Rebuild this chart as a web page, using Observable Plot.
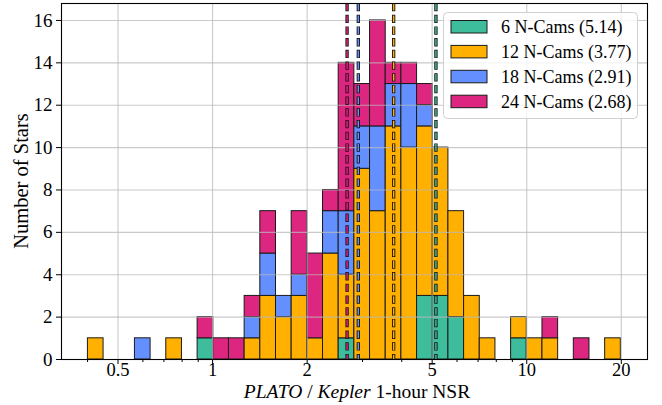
<!DOCTYPE html>
<html><head><meta charset="utf-8">
<script src="https://cdn.jsdelivr.net/npm/d3@7"></script>
<script src="https://cdn.jsdelivr.net/npm/@observablehq/plot@0.6"></script>
<style>
html,body{margin:0;padding:0;background:#fff;}
#chart svg{display:block;}
</style>
</head><body><div id="chart"></div>
<script>
// ---- data ----
const series = ["6 N-Cams", "12 N-Cams", "18 N-Cams", "24 N-Cams"];
const medians = [5.14, 3.77, 2.91, 2.68];
const colors = ["#3dbd9b", "#ffb000", "#648fff", "#dc267f"];
const binLo = 0.401, binHi = 19.93, nBins = 34;
// counts per log-spaced bin (34 bins), stacked bottom to top in series order
const counts6  = [0,0,0,0,0,0,0,1,0,0, 0,0,0,0,0,0,1,0,0,0, 0,3,3,2,0,0,0,1,0,0, 0,0,0,0];
const counts12 = [1,0,0,0,0,1,0,0,0,0, 1,3,2,3,1,5,3,9,7,11, 10,8,7,5,3,1,0,1,1,1, 0,0,0,1];
const counts18 = [0,0,0,1,0,0,0,0,0,0, 1,2,1,1,0,2,3,2,4,2, 3,1,0,0,0,0,0,0,0,0, 0,0,0,0];
const counts24 = [0,0,0,0,0,0,0,1,1,1, 1,2,0,3,4,1,7,2,5,1, 1,1,0,0,0,0,0,0,0,1, 0,1,0,0];
const xMajorTicks = [0.5, 1, 2, 5, 10, 20];
const xTickLabels = ["0.5", "1", "2", "5", "10", "20"];
const xMinorTicks = [0.4, 0.6, 0.7, 0.8, 0.9, 3, 4, 6, 7, 8, 9];
const yTicks = [0, 2, 4, 6, 8, 10, 12, 14, 16];

// ---- build table ----
const allCounts = [counts6, counts12, counts18, counts24];
const edges = d3.range(nBins + 1).map(i => binLo * Math.pow(binHi / binLo, i / nBins));
const rows = [];
for (let i = 0; i < nBins; i++) {
  series.forEach((s, k) => {
    if (allCounts[k][i] > 0) rows.push({x1: edges[i], x2: edges[i + 1], y: allCounts[k][i], series: s});
  });
}
const medRows = series.map((s, k) => ({series: s, x: medians[k]}));
const xLabelRows = xMajorTicks.map((v, i) => ({x: v, label: xTickLabels[i]}));

const W = 662, H = 405, mL = 61, mR = 15, mT = 3, mB = 46;
const xLo = Math.pow(10, -0.4809), xHi = Math.pow(10, 1.3844);
const font = "Liberation Serif, Times New Roman, serif";

const chart = Plot.plot({
  width: W, height: H,
  marginLeft: mL, marginRight: mR, marginTop: mT, marginBottom: mB,
  style: {fontFamily: font, fontSize: "19px", background: "#fff", color: "#000", overflow: "visible"},
  x: {type: "log", domain: [xLo, xHi]},
  y: {domain: [0, 16.8]},
  color: {domain: series, range: colors},
  marks: [
    Plot.rectY(rows, {x1: "x1", x2: "x2", y: "y", fill: "series", stroke: "#1a1a1a", strokeWidth: 1, order: null}),
    Plot.ruleX(xMajorTicks, {stroke: "#b8b8b8", strokeOpacity: 0.75, strokeWidth: 1.1}),
    Plot.ruleY(yTicks, {stroke: "#b8b8b8", strokeOpacity: 0.75, strokeWidth: 1.1}),
    Plot.ruleX(medRows, {x: "x", stroke: "#111", strokeWidth: 3.3, strokeDasharray: "8.3,3.4"}),
    Plot.ruleX(medRows, {x: "x", stroke: "series", strokeWidth: 1.5, strokeDasharray: "6.9,4.8", strokeDashoffset: 11.0}),
    Plot.axisX(xMajorTicks, {anchor: "bottom", tickSize: 5, tickFormat: () => "", label: null}),
    Plot.axisX(xMinorTicks, {anchor: "bottom", tickSize: 3, tickFormat: () => "", label: null}),
    Plot.text(xLabelRows, {x: "x", text: "label", frameAnchor: "bottom", lineAnchor: "top", dy: 3.4, fontSize: 18.5, fill: "#000"}),
    Plot.axisY(yTicks, {anchor: "left", tickSize: 5, tickPadding: 4, label: null, fontSize: 19}),
    Plot.frame({stroke: "#000", strokeWidth: 1.1})
  ]
});
document.getElementById("chart").appendChild(chart);

// ---- labels & legend ----
const svg = d3.select(chart);
svg.append("text")
  .attr("transform", `translate(23,${(mT + H - mB) / 2}) rotate(-90)`)
  .attr("text-anchor", "middle").attr("dominant-baseline", "middle")
  .attr("font-family", font).attr("font-size", 20.5).attr("fill", "#000")
  .text("Number of Stars");
const xl = svg.append("text")
  .attr("x", 357).attr("y", 397.5).attr("text-anchor", "middle")
  .attr("font-family", font).attr("font-size", 19.5).attr("fill", "#000");
xl.append("tspan").attr("font-style", "italic").text("PLATO");
xl.append("tspan").text(" / ");
xl.append("tspan").attr("font-style", "italic").text("Kepler");
xl.append("tspan").text(" 1-hour NSR");

const lg = svg.append("g");
lg.append("rect").attr("x", 443.5).attr("y", 12.5).attr("width", 194).attr("height", 106)
  .attr("rx", 4).attr("fill", "#fff").attr("fill-opacity", 0.8).attr("stroke", "#d0d0d0").attr("stroke-width", 1);
series.forEach((s, k) => {
  const y0 = 20.5 + k * 24.9;
  lg.append("rect").attr("x", 451).attr("y", y0).attr("width", 36).attr("height", 12.5)
    .attr("fill", colors[k]).attr("stroke", "#1a1a1a").attr("stroke-width", 1);
  lg.append("text").attr("x", 501).attr("y", y0 + 12.3)
    .attr("text-anchor", "start")
    .attr("font-family", font).attr("font-size", 18).attr("fill", "#000")
    .text(`${s} (${medians[k].toFixed(2)})`);
});
</script>
</body></html>
